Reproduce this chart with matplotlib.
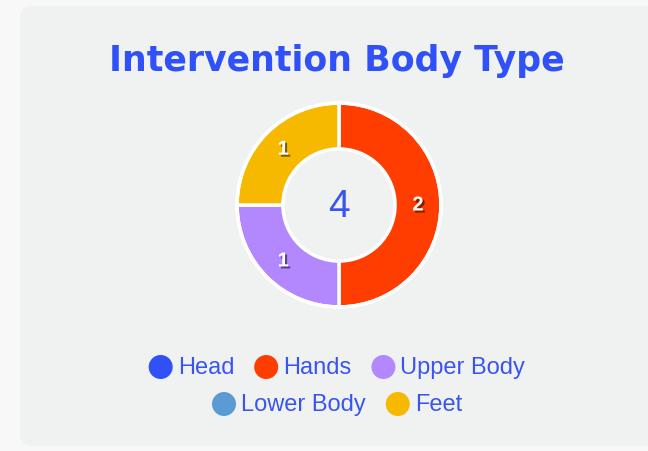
import numpy as np
import matplotlib.pyplot as plt
import matplotlib.patheffects as pe
from matplotlib.patches import FancyBboxPatch, Circle

# Chart data
categories = ["Head", "Hands", "Upper Body", "Lower Body", "Feet"]
counts = [0, 2, 1, 0, 1]
colors = ["#3050f8", "#ff3d00", "#b388ff", "#5b9bd5", "#f7b900"]
title = "Intervention Body Type"
text_blue = "#3a55ee"

W, H = 648, 451
fig = plt.figure(figsize=(W / 100, H / 100), dpi=100)
fig.patch.set_facecolor("#f8f8f8")

# card background (pixel coords)
bg = fig.add_axes([0, 0, 1, 1])
bg.set_xlim(0, W)
bg.set_ylim(H, 0)
bg.axis("off")
bg.add_patch(FancyBboxPatch((20, 6), 660, 440, boxstyle="round,pad=0,rounding_size=12",
                            fc="#f0f2f2", ec="none"))
bg.text(337, 61, title, ha="center", va="center", fontsize=25, fontweight="heavy",
        color="#3050f8", family="DejaVu Sans")

# legend, two centred rows
rows = [[0, 1, 2], [3, 4]]
row_y = [367, 404]
fs = 17
r = 12
gap_marker = 5
gap_item = 20
renderer = fig.canvas.get_renderer()
for row, y in zip(rows, row_y):
    widths = []
    for i in row:
        t = bg.text(0, 0, categories[i], fontsize=fs, family="Liberation Sans")
        bb = t.get_window_extent(renderer)
        t.remove()
        widths.append(bb.width)
    total = sum(2 * r + gap_marker + w for w in widths) + gap_item * (len(row) - 1)
    x = 337 - total / 2
    for i, w in zip(row, widths):
        bg.add_patch(Circle((x + r, y), r, fc=colors[i], ec="none"))
        bg.text(x + 2 * r + gap_marker, y + 1, categories[i], fontsize=fs, family="Liberation Sans",
                color=text_blue, va="center", ha="left")
        x += 2 * r + gap_marker + w + gap_item

# donut
cx, cy, R = 339, 205, 104
ax = fig.add_axes([(cx - R) / W, 1 - (cy + R) / H, 2 * R / W, 2 * R / H])
ax.set_aspect("equal")
vals = [v for v in counts if v > 0]
cols = [c for c, v in zip(colors, counts) if v > 0]
wedges, _ = ax.pie(vals, colors=cols, startangle=90, counterclock=False, radius=1.0,
                   wedgeprops=dict(width=0.45, edgecolor="white", linewidth=2.5))
ax.set_xlim(-1.02, 1.02)
ax.set_ylim(-1.02, 1.02)
ax.add_patch(Circle((0, 0), 1.0, fc="none", ec="white", lw=2.5))

total = sum(vals)
start = 90
for v in vals:
    ang = np.deg2rad(start - 360 * v / total / 2)
    rr = 0.775
    ax.text(rr * np.cos(ang), rr * np.sin(ang), str(v), ha="center", va="center",
            fontsize=14.5, fontweight="bold", color="white", family="Liberation Sans",
            path_effects=[pe.withSimplePatchShadow(offset=(1.5, -1.5), shadow_rgbFace="#000000", alpha=0.5)])
    start -= 360 * v / total

ax.text(0, -0.02, str(total), ha="center", va="center", fontsize=28, color=text_blue,
        family="Liberation Sans")

fig.savefig("out.png", dpi=100, facecolor=fig.get_facecolor())
